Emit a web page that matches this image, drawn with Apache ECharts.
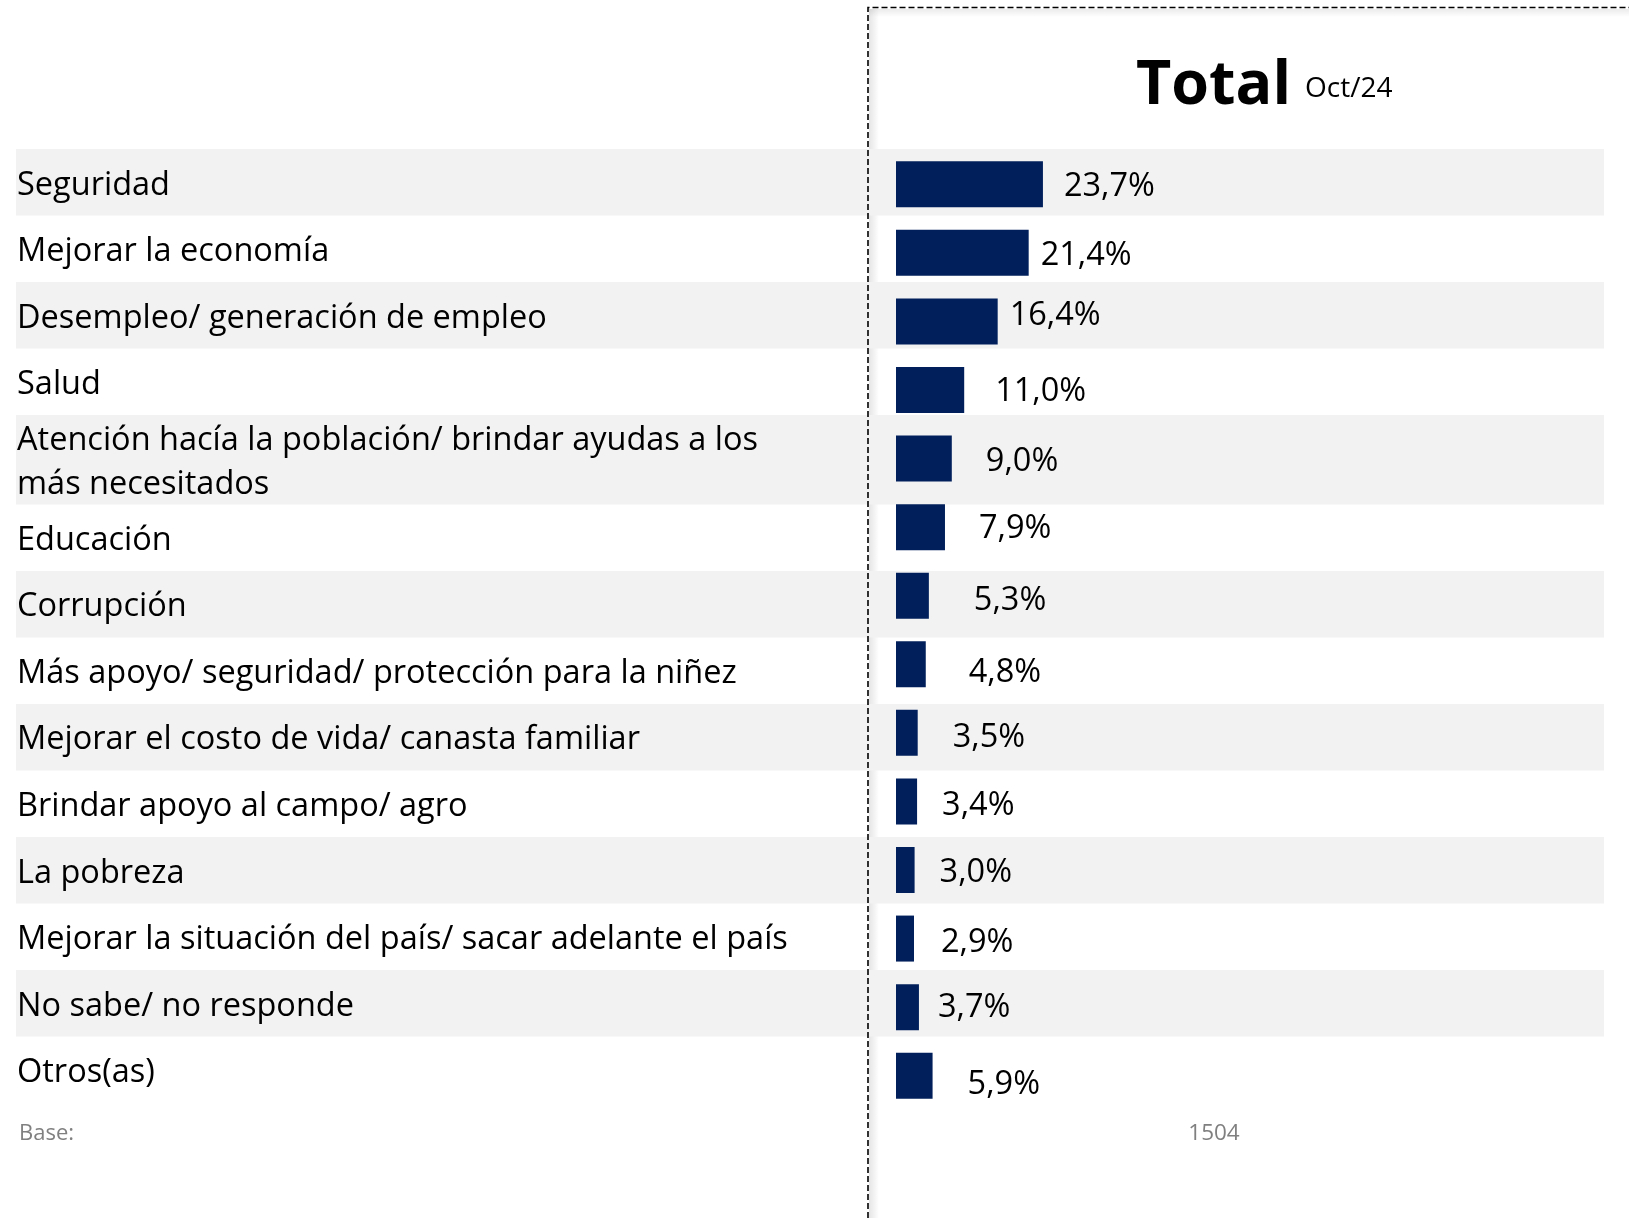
<!DOCTYPE html>
<html>
<head>
<meta charset="utf-8">
<title>Total Oct/24</title>
<script src="https://cdn.jsdelivr.net/npm/echarts@6/dist/echarts.min.js"></script>
<style>
  html, body { margin: 0; padding: 0; background: #fff; }
  #chart { width: 1629px; height: 1218px; }
</style>
</head>
<body>
<div id="chart"></div>
<script>
// categorías (de arriba hacia abajo)
const categories = [
  'Seguridad',
  'Mejorar la economía',
  'Desempleo/ generación de empleo',
  'Salud',
  'Atención hacía la población/ brindar ayudas a los\nmás necesitados',
  'Educación',
  'Corrupción',
  'Más apoyo/ seguridad/ protección para la niñez',
  'Mejorar el costo de vida/ canasta familiar',
  'Brindar apoyo al campo/ agro',
  'La pobreza',
  'Mejorar la situación del país/ sacar adelante el país',
  'No sabe/ no responde',
  'Otros(as)',
]

// porcentajes Oct/24
const values = [23.7, 21.4, 16.4, 11.0, 9.0, 7.9, 5.3, 4.8, 3.5, 3.4, 3.0, 2.9, 3.7, 5.9]

const titleText = 'Total'
const periodText = 'Oct/24'
const baseLabel = 'Base:'
const baseValue = '1504'

// alto relativo de cada franja (la de dos líneas es más alta)
const rowSpans = [1, 1, 1, 1, 1.345, 1, 1, 1, 1, 1, 1, 1, 1, 1]

// ajustes manuales de las etiquetas de valor (como en la lámina original)
const labelGap = [21, 12, 12, 31, 34, 34, 45, 43, 35, 25, 25, 27, 19, 35]
const labelDy = [0, 1, -8, 0, 1, 0, 3, 6, 3, 2, 1, 2, -1, 7]

const FONT = '"Open Sans", "Noto Sans", sans-serif'
const NAVY = '#001F5B'
const BAND = '#F2F2F2'

// franjas: [x, inicio, fin]
let acc = 0
const bandData = rowSpans.map((s) => {
  const row = [0, acc, acc + s]
  acc += s
  return row
})
const totalSpan = acc

const fmt = (v) => v.toFixed(1).replace('.', ',') + '%'

const chart = echarts.init(document.getElementById('chart'))

const option = {
  backgroundColor: '#fff',
  animation: false,
  grid: [
    // franjas y textos de la izquierda
    { left: 16, right: 25, top: 149, bottom: 115 },
    // barras
    { left: 896, width: 620, top: 150, bottom: 108 },
  ],
  xAxis: [
    { gridIndex: 0, type: 'value', min: 0, max: 1, show: false },
    { gridIndex: 1, type: 'value', min: 0, max: 100, show: false },
  ],
  yAxis: [
    { gridIndex: 0, type: 'value', min: 0, max: totalSpan, inverse: true, show: false },
    { gridIndex: 1, type: 'category', data: categories, inverse: true, show: false },
  ],
  series: [
    {
      type: 'custom',
      xAxisIndex: 0,
      yAxisIndex: 0,
      z: 0,
      silent: true,
      encode: { x: 0, y: [1, 2] },
      data: bandData,
      renderItem: (params, api) => {
        const i = params.dataIndex
        const p0 = api.coord([0, api.value(1)])
        const p1 = api.coord([1, api.value(2)])
        return {
          type: 'group',
          children: [
            {
              type: 'rect',
              shape: { x: p0[0], y: p0[1], width: p1[0] - p0[0], height: p1[1] - p0[1] },
              style: { fill: i % 2 === 0 ? BAND : 'rgba(0,0,0,0)' },
            },
            {
              type: 'text',
              x: p0[0] + 1,
              y: (p0[1] + p1[1]) / 2 + 3,
              style: {
                text: categories[i],
                fill: '#000',
                fontFamily: FONT,
                fontSize: 32.5,
                lineHeight: 44,
                align: 'left',
                verticalAlign: 'middle',
              },
            },
          ],
        }
      },
    },
    {
      type: 'bar',
      xAxisIndex: 1,
      yAxisIndex: 1,
      z: 3,
      barWidth: 46,
      itemStyle: { color: NAVY },
      label: {
        show: true,
        position: 'right',
        color: '#000',
        fontFamily: FONT,
        fontSize: 32.5,
        formatter: (p) => fmt(p.value),
      },
      data: values.map((v, i) => ({
        value: v,
        label: { distance: labelGap[i], offset: [0, labelDy[i] + 2] },
      })),
    },
  ],
  graphic: [
    // sombra suave del recuadro punteado
    {
      type: 'rect',
      shape: { x: 869, y: 9, width: 10, height: 1209 },
      style: {
        fill: new echarts.graphic.LinearGradient(0, 0, 1, 0, [
          { offset: 0, color: 'rgba(0,0,0,0.10)' },
          { offset: 1, color: 'rgba(0,0,0,0)' },
        ]),
      },
      silent: true,
    },
    {
      type: 'rect',
      shape: { x: 869, y: 9, width: 760, height: 8 },
      style: {
        fill: new echarts.graphic.LinearGradient(0, 0, 0, 1, [
          { offset: 0, color: 'rgba(0,0,0,0.08)' },
          { offset: 1, color: 'rgba(0,0,0,0)' },
        ]),
      },
      silent: true,
    },
    // recuadro punteado
    {
      type: 'polyline',
      shape: { points: [[868, 1218], [868, 7.5], [1629, 7.5]] },
      style: { stroke: '#000', lineWidth: 1.6, lineDash: [6, 3], fill: null },
      silent: true,
      z: 10,
    },
    // título
    {
      type: 'text',
      x: 1136,
      y: 87,
      style: {
        text: titleText,
        fill: '#000',
        fontFamily: FONT,
        fontWeight: 'bold',
        fontSize: 61,
        verticalAlign: 'middle',
      },
    },
    {
      type: 'text',
      x: 1305,
      y: 89,
      style: {
        text: periodText,
        fill: '#000',
        fontFamily: FONT,
        fontSize: 28,
        verticalAlign: 'middle',
      },
    },
    // base
    {
      type: 'text',
      x: 19,
      y: 1134,
      style: {
        text: baseLabel,
        fill: '#808080',
        fontFamily: FONT,
        fontSize: 22,
        verticalAlign: 'middle',
      },
    },
    {
      type: 'text',
      x: 1214,
      y: 1134,
      style: {
        text: baseValue,
        fill: '#808080',
        fontFamily: FONT,
        fontSize: 22.5,
        align: 'center',
        verticalAlign: 'middle',
      },
    },
  ],
}

chart.setOption(option)
</script>
</body>
</html>
